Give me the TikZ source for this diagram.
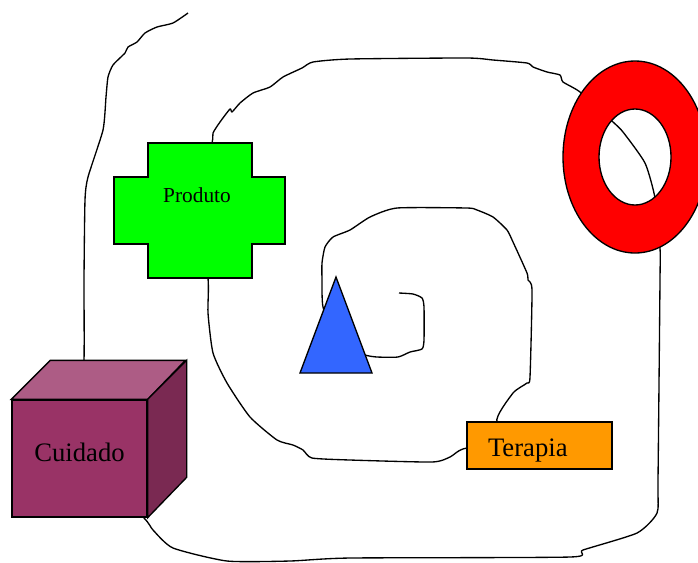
\documentclass[tikz,border=0pt]{standalone}
\usepackage{fontspec}
\setmainfont{Liberation Serif}
\usepackage{xcolor}
\usepackage{tikz}
\usetikzlibrary{positioning}
\usetikzlibrary{backgrounds}
\definecolor{verde}{RGB}{0,255,0}
\definecolor{vermelho}{RGB}{255,0,0}
\definecolor{azul}{RGB}{51,102,255}
\definecolor{laranja}{RGB}{255,153,0}
\definecolor{cubofrente}{RGB}{153,51,102}
\definecolor{cubotopo}{RGB}{173,92,133}
\definecolor{cubolado}{RGB}{122,41,82}
\tikzstyle{trilha} = [draw, line width=1pt, line join=round]
\tikzstyle{forma} = [draw, line width=1pt, line join=miter]
\tikzstyle{cruz} = [forma, fill=verde]
\tikzstyle{anel} = [forma, fill=vermelho, even odd rule]
\tikzstyle{triangulo} = [forma, fill=azul]
\tikzstyle{caixa} = [rectangle, forma, fill=laranja, text width=77.25pt,
    inner xsep=15.75pt, inner ysep=0pt, minimum height=35.25pt, align=left,
    text height=20.7pt, text depth=4.3pt, font=\fontsize{20}{24}\selectfont]
\tikzstyle{cubo} = [rectangle, forma, fill=cubofrente, minimum width=101.25pt,
    minimum height=87.75pt, inner sep=0pt, text height=13.9pt, text depth=9pt,
    font=\fontsize{20}{24}\selectfont]

\begin{document}
\begin{tikzpicture}[x=0.75pt, y=-0.75pt]
  \clip (0,0) rectangle (698,562);
  % Place nodes
  \path [cruz] (148,143) -- (252,143) -- (252,177) -- (285,177) -- (285,244)
    -- (252,244) -- (252,278) -- (148,278) -- (148,244) -- (114,244)
    -- (114,177) -- (148,177) -- cycle;
  \node [font=\fontsize{16}{19}\selectfont] (produto) at (197,195) {Produto};

  \path [anel] (635,157) ellipse [x radius=54pt, y radius=72pt]
    (635,157) ellipse [x radius=27pt, y radius=36pt];

  \path [triangulo] (336,277) -- (372,373) -- (300,373) -- cycle;
  \coordinate (triangulo) at (336,345);

  \node [caixa] (terapia) at (539.5,445.5) {Terapia};

  \node [cubo] (cuidado) at (79.5,458.5) {Cuidado\hspace{4.5pt}};
  \path [forma, fill=cubotopo] (cuidado.north west) -- ++(39,-39) -- ++(135,0)
    -- (cuidado.north east) -- cycle;
  \path [forma, fill=cubolado] (cuidado.north east) -- ++(39,-39) -- ++(0,117)
    -- (cuidado.south east) -- cycle;

  \coordinate (inicio) at (188,13);
  \coordinate (fim) at (399,293);

  % Draw the spiral behind the shapes
  \begin{scope}[on background layer]
  \path [trilha] plot [smooth, tension=0.35] coordinates {(inicio) (173,23)
    (157,27) (145,33) (137,42) (128,47) (125,53) (113,65) (108,77) (106,97)
    (103,130) (88,177) (85,200) (84,280) (84,361) (cuidado.center)};
  \path [trilha] plot [smooth, tension=0.35] coordinates {(cuidado.center)
    (143,517) (153,530) (173,548) (227,561) (290,561) (350,558) (570,557)
    (583,550) (637,533) (657,513) (658,480) (660,280) (660,248) (655,198)
    (645,163) (623,132) (613,122) (580,92) (563,82) (560,75) (547,72)
    (533,67) (527,63) (493,60) (467,58) (350,59) (313,62) (302,68) (283,77)
    (270,87) (253,93) (240,103) (232,112) (230,109) (220,122) (213,133)
    (212,143) (produto)};
  \path [trilha] plot [smooth, tension=0.35] coordinates {(produto) (208,278)
    (208,313) (213,353) (227,383) (250,417) (277,440) (293,445) (303,450)
    (312,458) (350,460) (432,462) (450,457) (467,448) (terapia)};
  \path [trilha] plot [smooth, tension=0.35] coordinates {(terapia) (497,422)
    (513,393) (527,383) (530,377) (532,290) (528,280) (527,273) (513,242)
    (507,230) (493,217) (477,210) (467,208) (397,208) (370,217) (350,230)
    (333,237) (325,247) (322,263) (322,280) (323,307) (triangulo)};
  \path [trilha] plot [smooth, tension=0.35] coordinates {(triangulo)
    (365,355) (377,357) (398,357) (410,352) (422,349) (424,340) (424,307)
    (422,298) (413,294) (fim)};
  \end{scope}
\end{tikzpicture}
\end{document}
